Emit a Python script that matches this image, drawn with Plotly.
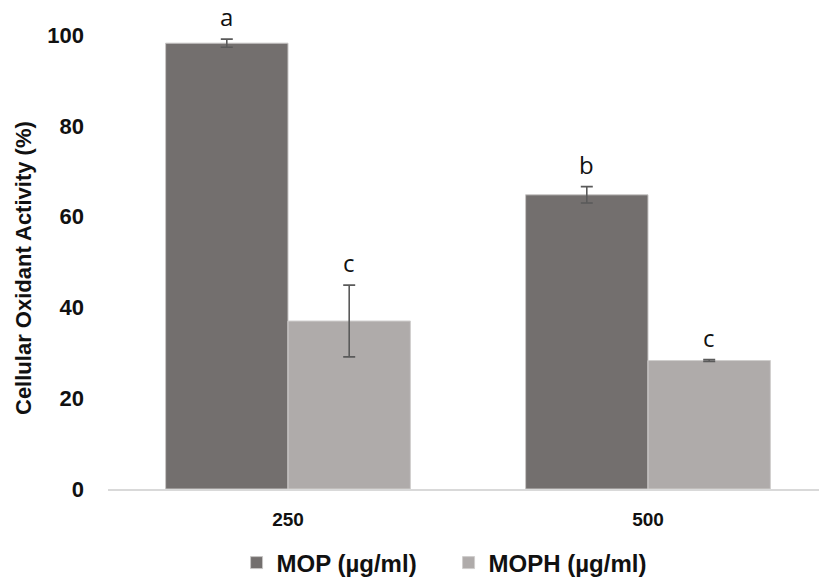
import plotly.graph_objects as go

categories = ["250", "500"]
mop_values = [98.2, 64.8]
mop_errors = [0.9, 1.8]
moph_values = [37.0, 28.3]
moph_errors = [7.9, 0.2]
mop_letters = ["a", "b"]
moph_letters = ["c", "c"]
y_title = "Cellular Oxidant Activity (%)"

BOLD = "Liberation Sans, Arial, sans-serif"

fig = go.Figure()
fig.add_trace(go.Bar(
    x=categories, y=mop_values, name="MOP (µg/ml)",
    marker=dict(color="#736f6e", line=dict(color="#c8c6c5", width=1)),
    error_y=dict(type="data", array=mop_errors, color="#5a5a5a", thickness=1.6, width=6),
))
fig.add_trace(go.Bar(
    x=categories, y=moph_values, name="MOPH (µg/ml)",
    marker=dict(color="#afabaa", line=dict(color="#d0cecd", width=1)),
    error_y=dict(type="data", array=moph_errors, color="#5a5a5a", thickness=1.6, width=6),
))

off = 0.17
for i, c in enumerate(categories):
    fig.add_annotation(x=i - off, y=mop_values[i] + mop_errors[i], text=mop_letters[i],
                       xref="x", yref="y", showarrow=False, yanchor="bottom", yshift=5,
                       borderpad=0,
                       font=dict(family="Open Sans, sans-serif", size=24, color="#111111"))
    fig.add_annotation(x=i + off, y=moph_values[i] + moph_errors[i], text=moph_letters[i],
                       xref="x", yref="y", showarrow=False, yanchor="bottom", yshift=5,
                       borderpad=0,
                       font=dict(family="Open Sans, sans-serif", size=24, color="#111111"))

# y-axis title placed as an annotation for precise positioning
fig.add_annotation(text=y_title, xref="paper", yref="paper", x=-0.118, y=0.487,
                   xanchor="center", yanchor="middle", textangle=-90, showarrow=False,
                   font=dict(size=22, family=BOLD, weight="bold", color="#111111"))

fig.update_layout(
    width=819, height=580,
    margin=dict(l=108, r=0, t=35, b=91, autoexpand=False),
    plot_bgcolor="white", paper_bgcolor="white",
    barmode="group", bargap=0.32, bargroupgap=0,
    font=dict(family=BOLD, color="#111111"),
    xaxis=dict(type="category", range=[-0.5, 1.475], showline=True, linecolor="#d9d9d9",
               linewidth=2, ticks="", showgrid=False, ticklabelstandoff=12,
               tickfont=dict(size=19, family=BOLD, weight="bold")),
    yaxis=dict(range=[0, 100], dtick=20, showgrid=False, zeroline=False, showline=False,
               ticks="", ticklabelstandoff=23,
               tickfont=dict(size=22, family=BOLD, weight="bold")),
    legend=dict(orientation="h", x=0.479, xanchor="center", y=-0.163, yanchor="middle",
                font=dict(size=24, family=BOLD, weight="bold"),
                itemwidth=30, tracegroupgap=0, entrywidth=167, entrywidthmode="pixels"),
)
fig.update_traces(cliponaxis=False)

fig.write_html("out.html", config={"displayModeBar": False},
               post_script="document.body.style.margin='0';")
